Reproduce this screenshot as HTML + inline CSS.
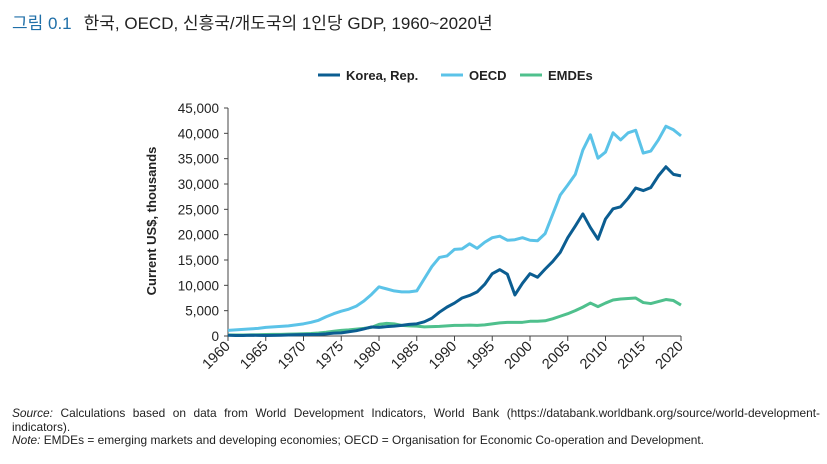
<!DOCTYPE html>
<html><head><meta charset="utf-8">
<style>
body{margin:0;width:827px;height:464px;background:#fff;overflow:hidden;font-family:"Liberation Sans","Noto Sans CJK KR",sans-serif;position:relative}
.title{position:absolute;left:12px;top:9px;font-size:17px;color:#222;white-space:nowrap}
.title b{color:#1f6fa8;font-weight:normal;margin-right:12px}
.foot{position:absolute;left:12px;width:808px;font-size:11.9px;color:#222;line-height:13.5px;text-align:justify}
</style></head><body>
<div class="title"><b>그림 0.1</b>한국, OECD, 신흥국/개도국의 1인당 GDP, 1960~2020년</div>
<svg id="chart" width="827" height="464" style="position:absolute;left:0;top:0"></svg>
<div class="foot" style="top:407px"><i>Source:</i> Calculations based on data from World Development Indicators, World Bank (https://databank.worldbank.org/source/world-development-indicators).</div>
<div class="foot" style="top:434px;text-align:left"><i>Note:</i> EMDEs = emerging markets and developing economies; OECD = Organisation for Economic Co-operation and Development.</div>
<script>
const years=[];for(let y=1960;y<=2020;y++)years.push(y);
const yTicks=[0,5000,10000,15000,20000,25000,30000,35000,40000,45000];
const xTicks=[1960,1965,1970,1975,1980,1985,1990,1995,2000,2005,2010,2015,2020];
const korea=[.16,.1,.1,.15,.12,.11,.13,.16,.19,.24,.28,.3,.32,.41,.56,.62,.83,1.05,1.4,1.78,1.7,1.85,1.95,2.1,2.3,2.4,2.8,3.5,4.7,5.7,6.5,7.5,8.0,8.7,10.2,12.3,13.1,12.2,8.1,10.4,12.3,11.6,13.2,14.7,16.5,19.4,21.7,24.1,21.4,19.1,23.1,25.1,25.5,27.2,29.2,28.7,29.3,31.6,33.4,31.9,31.6];
const oecd=[1.1,1.2,1.3,1.4,1.5,1.7,1.8,1.9,2.0,2.2,2.4,2.7,3.1,3.8,4.4,4.9,5.3,5.9,6.9,8.2,9.7,9.3,8.9,8.7,8.7,8.9,11.3,13.7,15.5,15.8,17.1,17.2,18.2,17.3,18.5,19.4,19.7,18.9,19.0,19.4,18.9,18.8,20.2,24.0,27.8,29.8,31.9,36.7,39.7,35.1,36.3,40.1,38.7,40.1,40.6,36.1,36.5,38.7,41.4,40.7,39.5];
const emdes=[.2,.2,.2,.22,.25,.3,.32,.33,.36,.4,.45,.5,.6,.75,.95,1.1,1.2,1.35,1.5,1.7,2.3,2.5,2.4,2.1,2.0,1.95,1.8,1.85,1.9,2.0,2.1,2.1,2.15,2.1,2.2,2.4,2.6,2.7,2.7,2.7,2.9,2.9,3.0,3.4,3.9,4.4,5.0,5.7,6.5,5.8,6.5,7.1,7.3,7.4,7.5,6.6,6.4,6.8,7.2,7.0,6.1];
const ns="http://www.w3.org/2000/svg",svg=document.getElementById('chart');
const X=v=>228+(v-1960)*(681-228)/60, Y=v=>336-v*(336-108)/45000;
function mk(t,a,p){const e=document.createElementNS(ns,t);for(const k in a)e.setAttribute(k,a[k]);(p||svg).appendChild(e);return e;}
const ax=mk('line',{x1:228,y1:108,x2:228,y2:336,stroke:'#444','stroke-width':1});

const bx=mk('line',{x1:228,y1:336,x2:681,y2:336,stroke:'#444','stroke-width':1});

yTicks.forEach(v=>{mk('line',{x1:224,x2:228,y1:Y(v),y2:Y(v),stroke:'#444'});
const t=mk('text',{x:219,y:Y(v)+5,'text-anchor':'end','font-size':13.5,fill:'#222'});t.textContent=v.toLocaleString('en-US');
});
xTicks.forEach(v=>{mk('line',{x1:X(v),x2:X(v),y1:336,y2:341,stroke:'#444'});
const t=mk('text',{x:X(v)+3,y:347,'text-anchor':'end','font-size':14.5,fill:'#222',transform:`rotate(-45 ${X(v)+3} 347)`});t.textContent=v;
});
const yt=mk('text',{x:0,y:0,'text-anchor':'middle','font-size':13,'font-weight':'bold',fill:'#222',transform:'translate(156 221) rotate(-90)'});yt.textContent='Current US$, thousands';

function line(d,c,name){const p=mk('polyline',{points:d.map((v,i)=>X(years[i])+','+Y(v*1000)).join(' '),fill:'none',stroke:c,'stroke-width':3,'stroke-linejoin':'round'});
}
line(emdes,'#4fc08d','emdes-line');line(oecd,'#5bc3e8','oecd-line');line(korea,'#0b5d91','korea-line');
[[318,'#0b5d91','Korea, Rep.'],[441,'#5bc3e8','OECD'],[520,'#4fc08d','EMDEs']].forEach(([x,c,l])=>{
const g=mk('g',{});
mk('line',{x1:x,x2:x+22,y1:75,y2:75,stroke:c,'stroke-width':3},g);
const t=mk('text',{x:x+28,y:80,'font-size':13,'font-weight':'bold',fill:'#222'},g);t.textContent=l;});
</script>
</body></html>
